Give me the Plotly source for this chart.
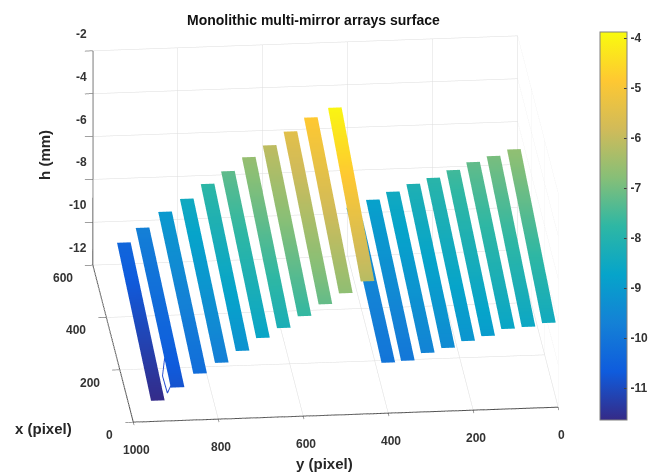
import plotly.graph_objects as go

# Stripe data: y centre (pixel), x ends (pixel), heights at both ends (mm)
stripe_y = [935, 891, 838, 787, 738, 690, 641, 592, 543, 495, 444,
            395, 349, 302, 254, 207, 160, 113, 65, 17]
stripe_x_low = [46] + [30] * 19
stripe_x_high = [550] * 10 + [515] + [550] * 9
stripe_z_low = [-11.6, -10.82, -10.21, -9.74, -9.22, -8.65, -8.22, -7.70, -7.18, -6.70, -6.18,
                -10.01, -9.95, -9.62, -9.42, -9.13, -8.93, -8.63, -8.57, -8.42]
stripe_z_high = [-10.38, -9.72, -9.01, -8.44, -7.78, -7.22, -6.60, -6.08, -5.47, -4.85, -4.0,
                 -9.13, -8.79, -8.45, -8.12, -7.87, -7.54, -7.20, -6.95, -6.67]
stripe_half_width = 16

# Thin stray threads between the first two stripes
thread_x = [185, 90, 24, None, 185, 120, 60, 24]
thread_y = [895, 917, 916, None, 895, 894, 900, 916]
thread_z = [-11, -11, -11, None, -11, -11, -11, -11]

x_ticks = [0, 200, 400, 600]
y_ticks = [0, 200, 400, 600, 800, 1000]
z_ticks = [-12, -10, -8, -6, -4, -2]
cbar_ticks = [-11, -10, -9, -8, -7, -6, -5, -4]

parula = [
    [0.000, "#352a87"], [0.125, "#0f5cdd"], [0.250, "#1481d6"], [0.375, "#06a4ca"],
    [0.500, "#2eb7a4"], [0.625, "#87bf77"], [0.750, "#d1bb59"], [0.875, "#fec832"],
    [1.000, "#f9fb0e"],
]

W, H = 651, 473
TICK_FONT = dict(family="Liberation Sans", size=12, color="#333333")


def px(u):
    return u / W


def py(v):
    return 1 - v / H


fig = go.Figure()
for i in range(len(stripe_y)):
    yc = stripe_y[i]
    fig.add_trace(go.Surface(
        x=[stripe_x_low[i], stripe_x_high[i]],
        y=[yc - stripe_half_width, yc + stripe_half_width],
        z=[[stripe_z_low[i], stripe_z_high[i]], [stripe_z_low[i], stripe_z_high[i]]],
        coloraxis="coloraxis",
        lighting=dict(ambient=1, diffuse=0, specular=0, roughness=1, fresnel=0),
        hoverinfo="skip",
    ))
fig.add_trace(go.Scatter3d(x=thread_x, y=thread_y, z=thread_z, mode="lines",
                           line=dict(color="#2a50d0", width=2), hoverinfo="skip"))


def axis(vals, rng):
    return dict(
        range=rng, tickvals=vals, title=dict(text=""), showticklabels=False,
        showgrid=True, gridcolor="#dcdcdc", gridwidth=1, showbackground=False,
        showline=True, linecolor="#404040", linewidth=2, zeroline=False,
        ticks="outside", ticklen=8, tickcolor="#404040",
        showspikes=False,
    )


def label(text, u, v, size, angle=0, color="#262626"):
    return dict(text=f"<b>{text}</b>", x=px(u), y=py(v), xref="paper", yref="paper",
                xanchor="center", yanchor="middle", showarrow=False, textangle=angle,
                font=dict(family="Liberation Sans", size=size, color=color))


def tick_note(x, y, z, text, anchor, dx, dy):
    return dict(x=x, y=y, z=z, text=f"<b>{text}</b>", showarrow=False, xanchor=anchor,
                yanchor="middle", xshift=dx, yshift=dy, font=TICK_FONT)


tick_notes = (
    [tick_note(600, 1000, v, v, "right", -4, 17) for v in z_ticks]
    + [tick_note(v, 1000, -12, v, "right", -18, -13) for v in x_ticks]
    + [tick_note(0, v, -12, v, "center", 3, -28) for v in y_ticks]
)

fig.update_layout(
    width=W, height=H, margin=dict(l=0, r=0, t=0, b=0),
    paper_bgcolor="white", showlegend=False,
    scene=dict(
        domain=dict(x=[1 / W, 651 / W], y=[1 - 456 / H, 1 - 2 / H]),
        xaxis=axis(x_ticks, [0, 600]),
        yaxis=axis(y_ticks, [0, 1000]),
        zaxis=axis(z_ticks, [-12, -2]),
        aspectmode="manual", aspectratio=dict(x=1.88, y=1.88, z=1.016),
        camera=dict(projection=dict(type="orthographic"),
                    up=dict(x=0, y=0, z=1), center=dict(x=0, y=0, z=0),
                    eye=dict(x=-3.704, y=0.353, z=1.48)),
        annotations=tick_notes,
    ),
    coloraxis=dict(
        colorscale=parula, cmin=-11.64, cmax=-3.88,
        colorbar=dict(
            tickmode="array", tickvals=cbar_ticks,
            ticktext=[f"<b>{v}</b>" for v in cbar_ticks],
            ticks="inside", ticklen=3, tickcolor="#404040",
            thickness=27, thicknessmode="pixels", len=388, lenmode="pixels",
            x=px(600), xanchor="left", y=py(32), yanchor="top",
            outlinecolor="#808080", outlinewidth=1, xpad=0, ypad=0,
            tickfont=TICK_FONT,
        ),
    ),
    annotations=[
        label("Monolithic multi-mirror arrays surface", 314, 20, 14, color="#111111"),
        label("h (mm)", 45, 155, 15, angle=-90),
        label("x (pixel)", 44, 428, 15),
        label("y (pixel)", 325, 463, 15),
    ],
)
fig.write_html("out.html", config={"displayModeBar": False},
               post_script="document.body.style.margin='0';")
